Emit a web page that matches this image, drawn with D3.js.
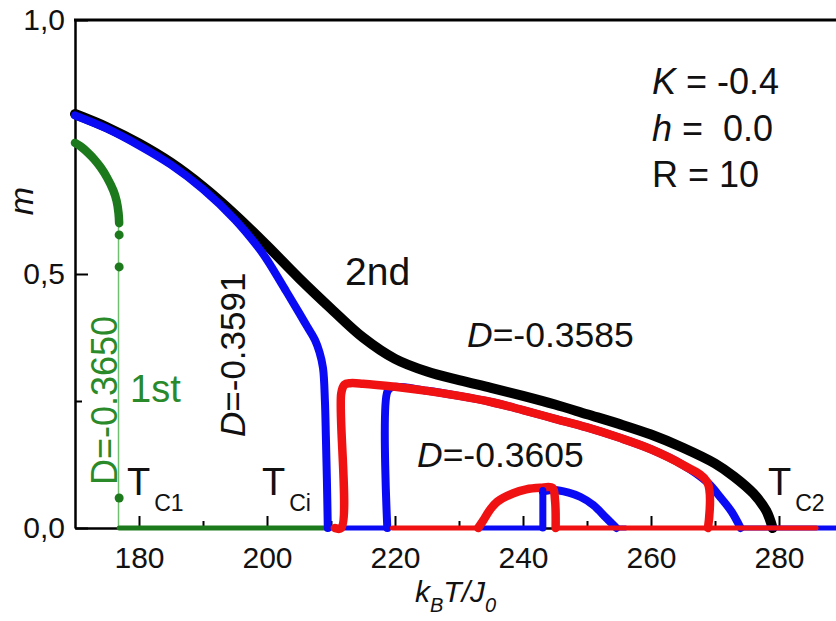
<!DOCTYPE html>
<html><head><meta charset="utf-8">
<script src="https://cdn.jsdelivr.net/npm/d3@7"></script>
<style>
body{margin:0;background:#fff}
text{font-family:"Liberation Sans",Arial,Helvetica,sans-serif}
</style>
</head><body>
<svg id="c" width="836" height="621"></svg>
<script>
// ---- axis ticks ----
const xTicks = [180, 200, 220, 240, 260, 280];
const xMinor = [190, 210, 230, 250, 270];
const yTicks = [0, 0.5, 1.0];
const yTickLabels = ["0,0", "0,5", "1,0"];
const yMinor = [0.25, 0.75];

// ---- D = -0.3585 (black, 2nd order) ----
const blackCurve = [[170,.815],[175,.789],[180,.757],[185,.719],[190,.672],[195,.617],[200,.556],[205,.492],[210,.432],[215,.375],[220,.333],[225,.308],[230,.291],[235,.276],[240,.26],[245,.243],[250,.224],[255,.205],[260,.184],[265,.158],[270,.127],[273,.101],[276,.068],[278,.034],[279,0]];

// ---- D = -0.3591 (blue) ----
const blueMain = [[170,.812],[175,.786],[180,.753],[185,.715],[190,.667],[195,.607],[198.6,.553],[200,.528],[203,.466],[205,.424],[206.25,.397],[207.5,.37],[208.2,.346],[208.75,.315],[209.05,.25],[209.2,.18],[209.35,.1],[209.5,0]];
const blueBase1 = [[209.5,0],[219,0]];
const blueUpper = [[218.8,0],[218.8,.268],[219.5,.277],[225,.27],[230,.26],[235,.248],[240,.232],[245,.215],[250,.198],[255,.178],[260,.155],[265,.124],[268.8,.09],[271,.058],[272.6,.032],[274,0]];
const blueBase2 = [[233.5,0],[243.2,0]];
const blueDome = [[243.1,.072],[245,.075],[247,.07],[249,.061],[251,.045],[253,.02],[254.6,0]];
const blueSpike = [[243.1,0],[243.1,.074]];
const blueBase3 = [[254.6,0],[256,0]];
const blueBase4 = [[274,0],[290,0]];

// ---- D = -0.3605 (red) ----
const redMain = [[210.6,0],[211.6,0],[211.6,.265],[212.1,.282],[213,.285],[215,.284],[220,.278],[225,.27],[230,.26],[235,.248],[240,.232],[245,.215],[250,.198],[255,.178],[260,.155],[265,.124],[268.8,.09],[268.9,0]];
const redBase1 = [[219.6,0],[233,0]];
const redBump = [[233,0],[233.8,.015],[234.8,.035],[236,.052],[238.4,.068],[240.5,.076],[242.7,.079],[244.6,.079],[245,.055],[245.1,0]];
const redBase2 = [[245.1,0],[269,0]];
const redBase3 = [[269,0],[285.8,0]];

// ---- D = -0.3650 (green, 1st order) ----
const greenCurve = [[170,.758],[171,.75],[172,.739],[173,.726],[174,.71],[175,.69],[176,.664],[176.5,.644],[176.8,.62],[176.9,.6]];
const greenDots = [[176.9,.577],[176.9,.514],[176.9,.059]];
const greenBase = [[176.9,0],[209.5,0]];
const greenGuide = [[176.8,.62],[176.8,0]];

// ---- parameters ----
const params = [["K"," = -0.4"],["h"," =  0.0"],["R"," = 10"]];

const svg = d3.select("#c");
const x = d3.scaleLinear([170, 290], [75, 843]);
const y = d3.scaleLinear([0, 1], [528, 20]);

// axes
const gx = svg.append("g").attr("transform","translate(0,528)")
  .call(d3.axisBottom(x).tickValues(xTicks).tickSizeInner(-12).tickSizeOuter(0).tickPadding(19).tickFormat(d3.format("d")));
const gxm = svg.append("g").attr("transform","translate(0,528)")
  .call(d3.axisBottom(x).tickValues(xMinor).tickSizeInner(-7).tickSizeOuter(0).tickFormat(""));
gxm.select(".domain").remove();
const gy = svg.append("g").attr("transform","translate(75,0)")
  .call(d3.axisLeft(y).tickValues(yTicks).tickSizeInner(-13).tickSizeOuter(0).tickPadding(10).tickFormat((d,i)=>yTickLabels[i]));
const gym = svg.append("g").attr("transform","translate(75,0)")
  .call(d3.axisLeft(y).tickValues(yMinor).tickSizeInner(-7).tickSizeOuter(0).tickFormat(""));
gym.select(".domain").remove();
[gx,gxm,gy,gym].forEach(g=>{
  g.selectAll("line").attr("stroke","#000").attr("stroke-width",2);
  g.selectAll(".domain").attr("stroke","#000").attr("stroke-width",2.5);
  g.selectAll("text").attr("font-size",30).attr("fill","#111").attr("font-family","Liberation Sans, Arial, sans-serif");
});
svg.append("line").attr("x1",x(170)-1).attr("x2",836).attr("y1",y(1)).attr("y2",y(1))
  .attr("stroke","#000").attr("stroke-width",3);

const line = d3.line().x(d=>x(d[0])).y(d=>y(d[1])).curve(d3.curveCatmullRom.alpha(0.5));
const straight = d3.line().x(d=>x(d[0])).y(d=>y(d[1]));
function path(data, color, w, gen){
  svg.append("path").datum(data).attr("d",(gen||line)).attr("fill","none")
    .attr("stroke",color).attr("stroke-width",w).attr("stroke-linejoin","round").attr("stroke-linecap","round");
}
const BLUE="#0a0af5", RED="#f01212", GREEN="#1c7a1c", BLACK="#000";

// green
path(greenGuide, "#6fbf6f", 1.5, straight);
path(greenBase, GREEN, 5, straight);
path(greenCurve, GREEN, 8.5);
svg.selectAll(".gdot").data(greenDots).join("circle").attr("class","gdot")
  .attr("cx",d=>x(d[0])).attr("cy",d=>y(d[1])).attr("r",4.5).attr("fill",GREEN);

// black
path(blackCurve, BLACK, 10);
// blue
path(blueBase4, BLUE, 5, straight);
path(blueMain, BLUE, 8);
path(blueBase1, BLUE, 5, straight);
path(blueBase2, BLUE, 5, straight);
path(blueBase3, BLUE, 5, straight);
path(blueUpper, BLUE, 8);
path(blueDome, BLUE, 8);
// red
path(redBase1, RED, 5, straight);
path(redBase2, RED, 5, straight);
path(redBase3, RED, 5, straight);
path(redMain, RED, 8.5);
path(redBump, RED, 8.5);
path(blueSpike, BLUE, 7, straight);

// text
function txt(xp, yp, size, color){
  return svg.append("text").attr("x",xp).attr("y",yp).attr("font-size",size).attr("fill",color||"#111");
}
params.forEach((p,i)=>{
  const t = txt(652, 94 + i*46.5, 36).style("white-space","pre");
  t.append("tspan").attr("font-style", p[0]==="R" ? "normal" : "italic").text(p[0]);
  t.append("tspan").text(p[1]);
});
txt(345, 285, 39).text("2nd");
const t1 = txt(467, 347, 35.5); t1.append("tspan").attr("font-style","italic").text("D"); t1.append("tspan").text("=-0.3585");
const t2 = txt(417, 467, 35.5); t2.append("tspan").attr("font-style","italic").text("D"); t2.append("tspan").text("=-0.3605");
const t3 = svg.append("text").attr("transform","translate(245,437) rotate(-90)").attr("font-size",35).attr("fill","#111");
t3.append("tspan").attr("font-style","italic").text("D"); t3.append("tspan").text("=-0.3591");
svg.append("text").attr("transform","translate(117,485) rotate(-90)").attr("font-size",36).attr("fill","#2a8a2a").text("D=-0.3650");
txt(130, 402, 38, "#2a8a2a").text("1st");
function tc(xp, sub){
  const t = txt(xp, 495, 38);
  t.append("tspan").text("T");
  t.append("tspan").attr("font-size",23).attr("dy",16).attr("dx",4).text(sub);
}
tc(127,"C1"); tc(262,"Ci"); tc(768,"C2");

// axis titles
const xl = txt(415, 602, 30);
xl.attr("font-style","italic");
xl.append("tspan").text("k");
xl.append("tspan").attr("font-size",20).attr("dy",10).text("B");
xl.append("tspan").attr("dy",-10).text("T/J");
xl.append("tspan").attr("font-size",20).attr("dy",10).text("0");
svg.append("text").attr("transform","translate(33,201) rotate(-90)").attr("text-anchor","middle")
  .attr("font-size",34).attr("font-style","italic").attr("fill","#111").text("m");
</script>
</body></html>
